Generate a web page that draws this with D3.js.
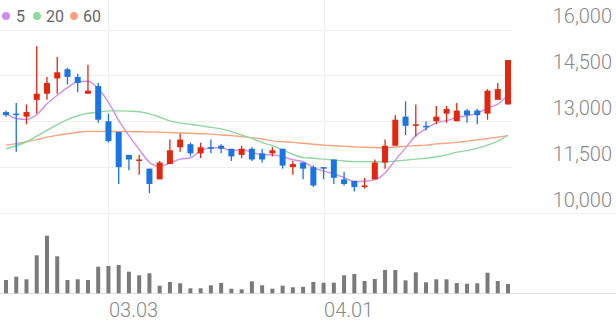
<!DOCTYPE html>
<html>
<head>
<meta charset="utf-8">
<script src="https://cdn.jsdelivr.net/npm/d3@7"></script>
<style>
  html, body { margin: 0; padding: 0; background: #fff; }
  svg { display: block; font-family: Roboto, 'Noto Sans', sans-serif; }
</style>
</head>
<body>
<div id="chart"></div>
<script>
const dates = [
  '2021-02-16', '2021-02-17', '2021-02-18', '2021-02-19', '2021-02-22', '2021-02-23', '2021-02-24', '2021-02-25', '2021-02-26', '2021-03-02',
  '2021-03-03', '2021-03-04', '2021-03-05', '2021-03-08', '2021-03-09', '2021-03-10', '2021-03-11', '2021-03-12', '2021-03-15', '2021-03-16',
  '2021-03-17', '2021-03-18', '2021-03-19', '2021-03-22', '2021-03-23', '2021-03-24', '2021-03-25', '2021-03-26', '2021-03-29', '2021-03-30',
  '2021-03-31', '2021-04-01', '2021-04-02', '2021-04-05', '2021-04-06', '2021-04-07', '2021-04-08', '2021-04-09', '2021-04-12', '2021-04-13',
  '2021-04-14', '2021-04-15', '2021-04-16', '2021-04-19', '2021-04-20', '2021-04-21', '2021-04-22', '2021-04-23', '2021-04-26', '2021-04-27',
];
const open = [
  13300, 13250, 13150, 13700, 13900, 14400, 14700, 14450, 13900, 14150,
  13000, 12650, 11900, 11700, 11450, 11100, 11600, 12150, 12250, 11950,
  12150, 12200, 12100, 11900, 12100, 11950, 11950, 12100, 11500, 11650,
  11500, 11500, 11750, 11100, 11050, 10850, 11100, 11650, 12200, 13150,
  12850, 12850, 13000, 13250, 13000, 13350, 13350, 13250, 13700, 13550,
];
const high = [
  13350, 13600, 13550, 15450, 14450, 15100, 14750, 14550, 14850, 14250,
  13250, 12650, 11900, 11900, 11450, 11700, 12400, 12600, 12300, 12300,
  12400, 12250, 12100, 12200, 12150, 12100, 12150, 12100, 11700, 11650,
  11550, 11500, 11750, 11350, 11050, 11150, 11750, 12400, 13200, 13650,
  13550, 13000, 13500, 13500, 13600, 13400, 13400, 14050, 14250, 15000,
];
const low = [
  13150, 12000, 12900, 13250, 13700, 13900, 14200, 13950, 13900, 12950,
  12300, 10950, 11400, 11250, 10650, 11100, 11600, 12000, 11850, 11800,
  11950, 11950, 11700, 11800, 11700, 11650, 11850, 11450, 11250, 11100,
  10850, 11100, 10950, 10900, 10700, 10800, 11100, 11450, 12200, 12550,
  12500, 12700, 12900, 12950, 13000, 12950, 12900, 13050, 13700, 13550,
];
const close = [
  13200, 13200, 13300, 13900, 14250, 14600, 14450, 14250, 14000, 13050,
  12350, 11500, 11750, 11750, 10950, 11650, 12050, 12400, 11950, 12150,
  12100, 12100, 11850, 12100, 11750, 11750, 12050, 11550, 11600, 11450,
  10900, 11450, 11150, 10950, 10850, 10900, 11650, 12200, 13050, 12850,
  12900, 12800, 13150, 13400, 13350, 13200, 13200, 14000, 14050, 15000,
];
const volume = [
  133000, 166000, 140000, 380000, 576000, 370000, 133000, 140000, 133000, 266000,
  273000, 283000, 216000, 180000, 200000, 76000, 113000, 100000, 50000, 50000,
  80000, 103000, 46000, 40000, 120000, 80000, 46000, 76000, 60000, 65000,
  113000, 106000, 106000, 180000, 193000, 123000, 143000, 233000, 233000, 130000,
  210000, 110000, 140000, 140000, 103000, 96000, 100000, 206000, 123000, 93000,
];
// moving averages
const ma5 = [
  13260, 13090, 13060, 13220, 13570, 13850, 14100, 14290, 14310, 14070,
  13620, 13030, 12530, 12080, 11660, 11520, 11630, 11760, 11800, 12040,
  12130, 12140, 12030, 12080, 11980, 11910, 11900, 11840, 11740, 11680,
  11480, 11370, 11280, 11160, 11030, 11040, 11090, 11310, 11730, 12130,
  12530, 12760, 12950, 13020, 13120, 13180, 13260, 13430, 13560, 13860,
];
const ma20 = [
  12100, 12200, 12330, 12510, 12700, 12890, 13050, 13180, 13260, 13300,
  13340, 13340, 13330, 13310, 13240, 13140, 13010, 12940, 12900, 12850,
  12800, 12750, 12660, 12550, 12440, 12300, 12200, 12060, 11920, 11810,
  11790, 11760, 11730, 11700, 11680, 11680, 11680, 11670, 11700, 11730,
  11760, 11790, 11840, 11900, 11990, 12040, 12120, 12220, 12350, 12550,
];
const ma60 = [
  12220, 12270, 12330, 12400, 12480, 12540, 12590, 12640, 12670, 12670,
  12670, 12665, 12660, 12655, 12650, 12640, 12630, 12620, 12610, 12590,
  12580, 12550, 12530, 12500, 12460, 12420, 12360, 12330, 12310, 12280,
  12250, 12220, 12200, 12180, 12160, 12150, 12140, 12130, 12160, 12180,
  12200, 12220, 12260, 12280, 12310, 12350, 12390, 12430, 12480, 12530,
];
const priceTicks = [10000, 11500, 13000, 14500, 16000];
const dateTicks = ['2021-03-03', '2021-04-01'];
const maNames = ['5', '20', '60'];

const width = 616;
const height = 321;
const upColor = '#e3260e';
const downColor = '#1b74e4';
const maColors = ['#cf8ee9', '#8fd7a0', '#f6a47e'];

const svg = d3
  .select('#chart')
  .append('svg')
  .attr('width', width)
  .attr('height', height);

const xScale = d3.scalePoint().domain(dates).range([6, 508]);
const yScale = d3.scaleLinear().domain([10000, 16000]).range([213, 29.5]);
const vScale = d3.scaleLinear().domain([0, 600000]).range([293.3, 233.3]);

// grid
svg
  .append('g')
  .selectAll('line')
  .data(priceTicks)
  .join('line')
  .attr('x1', 0)
  .attr('x2', (d) => (d === 10000 ? width : 512))
  .attr('y1', (d) => Math.round(yScale(d)) + 0.5)
  .attr('y2', (d) => Math.round(yScale(d)) + 0.5)
  .attr('stroke', '#efefef');

svg
  .append('g')
  .selectAll('line')
  .data(dateTicks)
  .join('line')
  .attr('x1', (d) => Math.round(xScale(d)) + 0.5)
  .attr('x2', (d) => Math.round(xScale(d)) + 0.5)
  .attr('y1', 0)
  .attr('y2', 293)
  .attr('stroke', '#efefef');

svg
  .append('line')
  .attr('x1', 0)
  .attr('x2', width)
  .attr('y1', 293.5)
  .attr('y2', 293.5)
  .attr('stroke', '#dedede');

// price labels
svg
  .append('g')
  .selectAll('text')
  .data(priceTicks)
  .join('text')
  .attr('x', 612)
  .attr('y', (d) => yScale(d) - 6.5)
  .attr('text-anchor', 'end')
  .attr('font-size', 20)
  .attr('font-weight', 300)
  .attr('fill', '#888')
  .text((d) => d3.format(',')(d));

// date labels
svg
  .append('g')
  .selectAll('text')
  .data(dateTicks)
  .join('text')
  .attr('x', (d) => xScale(d) + 0.5)
  .attr('y', 316.5)
  .attr('font-size', 20)
  .attr('font-weight', 300)
  .attr('fill', '#888')
  .text((d) => d.slice(5).replace('-', '.'));

// volume
svg
  .append('g')
  .selectAll('rect')
  .data(dates)
  .join('rect')
  .attr('x', (d) => xScale(d) - 2)
  .attr('width', 4)
  .attr('y', (d, i) => vScale(volume[i]))
  .attr('height', (d, i) => vScale(0) - vScale(volume[i]))
  .attr('fill', '#7a7a7a');

// moving averages
const line = d3
  .line()
  .x((d, i) => xScale(dates[i]))
  .y((d) => yScale(d))
  .curve(d3.curveMonotoneX);

svg
  .append('g')
  .selectAll('path')
  .data([ma60, ma20, ma5])
  .join('path')
  .attr('d', line)
  .attr('fill', 'none')
  .attr('stroke', (d, i) => maColors[2 - i])
  .attr('stroke-width', 1.4);

// candles
const candles = svg
  .append('g')
  .selectAll('g')
  .data(dates)
  .join('g')
  .attr('fill', (d, i) => (close[i] >= open[i] ? upColor : downColor))
  .attr('stroke', (d, i) => (close[i] >= open[i] ? upColor : downColor));

candles
  .append('line')
  .attr('x1', (d) => xScale(d))
  .attr('x2', (d) => xScale(d))
  .attr('y1', (d, i) => yScale(high[i]))
  .attr('y2', (d, i) => yScale(low[i]))
  .attr('stroke-width', 1.3);

candles
  .append('rect')
  .attr('stroke', 'none')
  .attr('x', (d) => xScale(d) - 3)
  .attr('width', 6)
  .attr('y', (d, i) => yScale(Math.max(open[i], close[i])))
  .attr('height', (d, i) =>
    Math.max(1.5, Math.abs(yScale(open[i]) - yScale(close[i]))),
  );

// legend
const legend = svg.append('g');
const legendX = [[6, 16], [37, 46], [74, 83]];
maNames.forEach((name, i) => {
  legend
    .append('circle')
    .attr('cx', legendX[i][0])
    .attr('cy', 16)
    .attr('r', 4)
    .attr('fill', maColors[i]);
  legend
    .append('text')
    .attr('x', legendX[i][1])
    .attr('y', 22)
    .attr('font-size', 16)
    .attr('fill', '#666')
    .text(name);
});
</script>
</body>
</html>
